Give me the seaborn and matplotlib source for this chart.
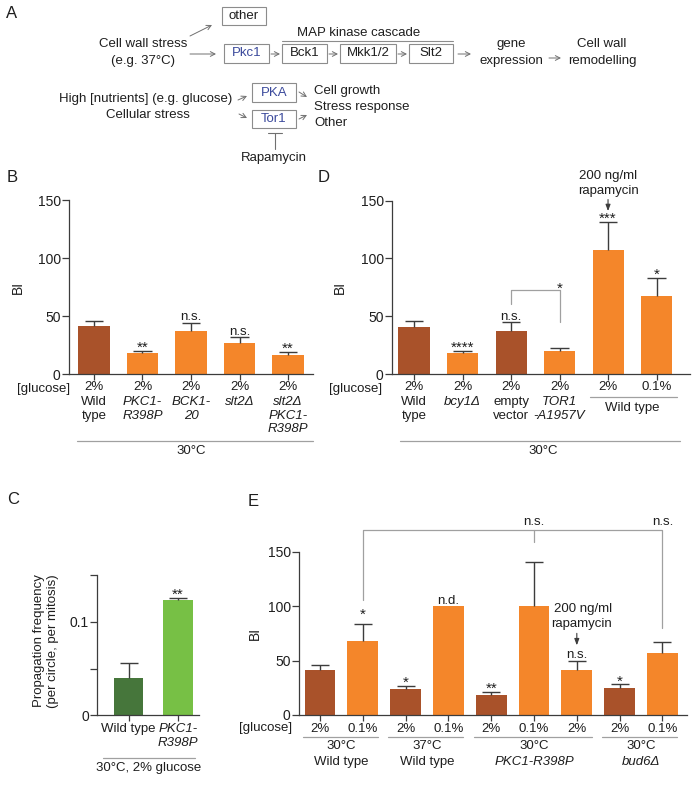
import matplotlib
matplotlib.use("Agg")
import matplotlib.pyplot as plt
import matplotlib.transforms as mtransforms
from matplotlib.patches import Rectangle
import numpy as np
import pandas as pd
import seaborn as sns

W, H = 692, 791
FS = 9.5
STAR = 11
BROWN = "#A9522A"
ORANGE = "#F4862A"
DKGREEN = "#46763B"
LTGREEN = "#77C045"
INK = "#1e1e1e"
AXC = "#3c3c3c"
GREY = "#a0a0a0"
BLUE = "#3b4a9c"

# ---- panel B: BI, 30°C, 2% glucose
b_names = ["Wild\ntype", "PKC1-\nR398P", "BCK1-\n20", "slt2Δ", "slt2Δ\nPKC1-\nR398P"]
b_italic = [False, True, True, True, True]
b_glucose = ["2%", "2%", "2%", "2%", "2%"]
b_bi = [41, 18, 37, 27, 16.5]
b_err = [5, 2, 7, 4.5, 2.3]
b_sig = ["", "**", "n.s.", "n.s.", "**"]
b_colors = [BROWN, ORANGE, ORANGE, ORANGE, ORANGE]

# ---- panel D
d_names = ["Wild\ntype", "bcy1Δ", "empty\nvector", "TOR1\n-A1957V", "", ""]
d_italic = [False, True, False, True, False, False]
d_glucose = ["2%", "2%", "2%", "2%", "2%", "0.1%"]
d_bi = [41, 18.5, 37.5, 20, 107, 67.5]
d_err = [4.7, 1.3, 7.5, 2.2, 24.5, 15.8]
d_sig = ["", "****", "n.s.", "", "***", "*"]
d_colors = [BROWN, ORANGE, BROWN, ORANGE, ORANGE, ORANGE]

# ---- panel C: propagation frequency
c_names = ["Wild type", "PKC1-\nR398P"]
c_italic = [False, True]
c_freq = [0.040, 0.1235]
c_err = [0.0155, 0.002]
c_sig = ["", "**"]
c_colors = [DKGREEN, LTGREEN]

# ---- panel E
e_glucose = ["2%", "0.1%", "2%", "0.1%", "2%", "0.1%", "2%", "2%", "0.1%"]
e_bi = [41.3, 68.3, 24, 100, 18.5, 100, 41.3, 24.5, 56.5]
e_err = [4.6, 15.3, 3, 0, 2.4, 40.5, 8.7, 3.7, 10.7]
e_sig = ["", "*", "*", "n.d.", "**", "", "n.s.", "*", ""]
e_colors = [BROWN, ORANGE, BROWN, ORANGE, BROWN, ORANGE, ORANGE, BROWN, ORANGE]
e_groups = [("30°C", "Wild type", 0, 1, False), ("37°C", "Wild type", 2, 3, False),
            ("30°C", "PKC1-R398P", 4, 6, True), ("30°C", "bud6Δ", 7, 8, True)]

sns.set_theme(style="ticks")
plt.rcParams["font.family"] = ["Liberation Sans", "DejaVu Sans"]
plt.rcParams["font.size"] = FS
plt.rcParams["text.color"] = INK

fig = plt.figure(figsize=(W / 100, H / 100), dpi=100)
ov = fig.add_axes([0, 0, 1, 1])
ov.set_xlim(0, W)
ov.set_ylim(H, 0)
ov.axis("off")
ov.patch.set_alpha(0)


def make_axes(x0, x1, y0, y1):
    ax = fig.add_axes([x0 / W, 1 - y1 / H, (x1 - x0) / W, (y1 - y0) / H])
    ax.patch.set_alpha(0)
    return ax


def bars(ax, vals, errs, colors, width, cap):
    ids = [str(i) for i in range(len(vals))]
    df = pd.DataFrame({"id": ids, "val": vals})
    sns.barplot(data=df, x="id", y="val", hue="id", palette=dict(zip(ids, colors)),
                width=width, saturation=1, errorbar=None, legend=False,
                linewidth=0, ax=ax)
    pos = np.arange(len(vals))
    vals = np.asarray(vals, float)
    errs = np.asarray(errs, float)
    m = errs > 0
    ax.vlines(pos[m], vals[m], vals[m] + errs[m], color=AXC, lw=1, zorder=3)
    ax.hlines(vals[m] + errs[m], pos[m] - cap, pos[m] + cap, color=AXC, lw=1, zorder=3)
    return vals + errs


def style(ax, xlim, ylim, yticks, ylabels, n):
    ax.set_xlim(xlim)
    ax.set_ylim(ylim)
    ax.set_yticks(yticks, ylabels)
    ax.set_xticks(range(n), [""] * n)
    ax.set_xlabel("")
    ax.set_ylabel("")
    sns.despine(ax=ax)
    for sp in ("left", "bottom"):
        ax.spines[sp].set_color(AXC)
        ax.spines[sp].set_linewidth(0.9)
    ax.tick_params(axis="y", length=5, width=0.9, color=AXC, pad=1, labelsize=10, labelcolor=INK)
    ax.tick_params(axis="x", length=4, width=0.9, color=AXC, pad=1)


def sig_labels(ax, tops, sigs, lift=None):
    lift = lift or {}
    for i, (t, s) in enumerate(zip(tops, sigs)):
        if not s:
            continue
        star = s.startswith("*")
        dy = lift.get(i, 0) + (-1 if star else 2.5)
        tr = mtransforms.offset_copy(ax.transData, fig=fig, y=dy, units="dots")
        ax.text(i, t, s, transform=tr, ha="center", va="baseline",
                fontsize=STAR if star else FS)


def blend(ax):
    return mtransforms.blended_transform_factory(ax.transData, ov.transData)


def hline(ax, x0, x1, ypx, color=GREY):
    ax.plot([x0, x1], [ypx, ypx], transform=blend(ax), color=color, lw=0.9, clip_on=False)


def put(ax, x, ypx, s, italic=False, va="center", **kw):
    ax.text(x, ypx, s, transform=blend(ax), ha="center", va=va,
            style="italic" if italic else "normal", fontsize=FS, linespacing=1.18, **kw)


# ================= Panel A (diagram)
def box(x0, x1, y0, y1, label, color=INK):
    ov.add_patch(Rectangle((x0, y0), x1 - x0, y1 - y0, fill=False, ec="#8c8c8c", lw=0.8))
    ov.text((x0 + x1) / 2, (y0 + y1) / 2, label, ha="center", va="center", color=color, fontsize=FS)


def arrow(x0, y0, x1, y1):
    ov.annotate("", xy=(x1, y1), xytext=(x0, y0),
                arrowprops=dict(arrowstyle="->,head_length=0.35,head_width=0.18",
                                color="#707070", lw=0.7, shrinkA=0, shrinkB=0))


ov.text(12, 13, "A", fontsize=12, ha="center", va="center")
box(222, 266, 7, 25, "other")
arrow(190, 36, 212, 25)
ov.text(143, 44, "Cell wall stress", ha="center", va="center")
ov.text(143, 61, "(e.g. 37°C)", ha="center", va="center")
arrow(190, 54, 216, 54)
box(224, 269, 44, 63, "Pkc1", BLUE)
ov.text(359, 33, "MAP kinase cascade", ha="center", va="center")
ov.plot([282, 453], [40.5, 40.5], color="#8c8c8c", lw=0.8)
arrow(271, 54, 280, 54)
box(282, 327, 44, 63, "Bck1")
arrow(329, 54, 338, 54)
box(340, 396, 44, 63, "Mkk1/2")
arrow(398, 54, 407, 54)
box(409, 453, 44, 63, "Slt2")
arrow(458, 54, 471, 54)
ov.text(511, 44, "gene", ha="center", va="center")
ov.text(511, 61, "expression", ha="center", va="center")
arrow(549, 58, 561, 58)
ov.text(602, 44, "Cell wall", ha="center", va="center")
ov.text(602, 61, "remodelling", ha="center", va="center")

ov.text(146, 99, "High [nutrients] (e.g. glucose)", ha="center", va="center")
ov.text(148, 115, "Cellular stress", ha="center", va="center")
arrow(238, 100, 247, 96)
arrow(239, 114, 247, 118)
box(252, 296, 83, 102, "PKA", BLUE)
box(252, 296, 110, 128, "Tor1", BLUE)
arrow(299, 92, 307, 97)
arrow(299, 119, 307, 115)
ov.text(314, 91, "Cell growth", ha="left", va="center")
ov.text(314, 107, "Stress response", ha="left", va="center")
ov.text(314, 123, "Other", ha="left", va="center")
ov.plot([268, 282], [133, 133], color="#707070", lw=0.8)
ov.plot([275, 275], [133, 149], color="#707070", lw=0.8)
ov.text(274, 158, "Rapamycin", ha="center", va="center")

# ================= Panel B
axB = make_axes(69, 313, 200, 374)
tops = bars(axB, b_bi, b_err, b_colors, 0.64, 0.19)
style(axB, (-0.515, 4.515), (0, 150), [0, 50, 100, 150], ["0", "50", "100", "150"], len(b_bi))
sig_labels(axB, tops, b_sig)
ov.text(12, 178, "B", fontsize=12, ha="center", va="center")
ov.text(18, 287, "BI", rotation=90, ha="center", va="center", fontsize=10)
ov.text(70, 389, "[glucose]", ha="right", va="center")
for i, (g, nm, it) in enumerate(zip(b_glucose, b_names, b_italic)):
    put(axB, i, 387, g)
    put(axB, i, 396, nm, italic=it, va="top")
hline(axB, -0.35, 4.515, 441)
put(axB, 2, 451, "30°C")

# ================= Panel D
axD = make_axes(392, 690, 200.7, 374)
tops = bars(axD, d_bi, d_err, d_colors, 0.64, 0.19)
style(axD, (-0.454, 5.69), (0, 150), [0, 50, 100, 150], ["0", "50", "100", "150"], len(d_bi))
sig_labels(axD, tops, d_sig)
ov.text(324, 178, "D", fontsize=12, ha="center", va="center")
ov.text(340, 287, "BI", rotation=90, ha="center", va="center", fontsize=10)
ov.text(382, 389, "[glucose]", ha="right", va="center")
for i, (g, nm, it) in enumerate(zip(d_glucose, d_names, d_italic)):
    put(axD, i, 387, g)
    if nm:
        put(axD, i, 396, nm, italic=it, va="top")
hline(axD, 3.63, 5.42, 397)
put(axD, 4.5, 407.5, "Wild type")
hline(axD, -0.29, 5.48, 441)
put(axD, 2.66, 451, "30°C")
axD.plot([2, 2, 3, 3], [61, 73, 73, 45], color=GREY, lw=0.9, clip_on=False)
axD.text(3, 73, "*", ha="center", va="baseline", fontsize=STAR,
         transform=mtransforms.offset_copy(axD.transData, fig=fig, y=-3, units="dots"))
axD.text(4, 171.5, "200 ng/ml", ha="center", va="center", fontsize=FS, clip_on=False)
axD.text(4, 158, "rapamycin", ha="center", va="center", fontsize=FS, clip_on=False)
axD.annotate("", xy=(4, 141), xytext=(4, 151), annotation_clip=False,
             arrowprops=dict(arrowstyle="-|>,head_length=0.4,head_width=0.15",
                             color=AXC, lw=0.8, shrinkA=0, shrinkB=0))

# ================= Panel C
axC = make_axes(97.3, 199, 575, 715.3)
tops = bars(axC, c_freq, c_err, c_colors, 0.59, 0.18)
style(axC, (-0.637, 1.426), (0, 0.15), [0, 0.05, 0.1, 0.15], ["0", "", "0.1", ""], len(c_freq))
sig_labels(axC, tops, c_sig)
ov.text(13, 500, "C", fontsize=12, ha="center", va="center")
ov.text(46, 641, "Propagation frequency\n(per circle, per mitosis)", rotation=90,
        ha="center", va="center", multialignment="center", linespacing=1.15)
for i, (nm, it) in enumerate(zip(c_names, c_italic)):
    put(axC, i, 723, nm, italic=it, va="top")
hline(axC, -0.52, 1.35, 758)
put(axC, 0.4, 768, "30°C, 2% glucose")

# ================= Panel E
axE = make_axes(299, 686.7, 551.7, 715)
tops = bars(axE, e_bi, e_err, e_colors, 0.72, 0.21)
style(axE, (-0.49, 8.567), (0, 150), [0, 50, 100, 150], ["0", "50", "100", "150"], len(e_bi))
sig_labels(axE, tops, e_sig, lift={1: 6})
ov.text(253, 501, "E", fontsize=12, ha="center", va="center")
ov.text(255, 633, "BI", rotation=90, ha="center", va="center", fontsize=10)
ov.text(292, 728, "[glucose]", ha="right", va="center")
for i, g in enumerate(e_glucose):
    put(axE, i, 729.5, g)
for temp, strain, a, b, it in e_groups:
    hline(axE, a - 0.4, b + 0.35, 736.5)
    put(axE, (a + b) / 2, 746, temp)
    put(axE, (a + b) / 2, 762, strain, italic=it)
axE.plot([1, 1, 8, 8], [105.6, 170, 170, 80], color=GREY, lw=0.9, clip_on=False)
axE.plot([5, 5], [170, 159], color=GREY, lw=0.9, clip_on=False)
axE.text(5, 177.5, "n.s.", ha="center", va="center", fontsize=FS, clip_on=False)
axE.text(8, 177.5, "n.s.", ha="center", va="center", fontsize=FS, clip_on=False)
axE.text(6.15, 97.3, "200 ng/ml", ha="center", va="center", fontsize=FS)
axE.text(6.11, 83.6, "rapamycin", ha="center", va="center", fontsize=FS)
axE.annotate("", xy=(6, 64), xytext=(6, 75), annotation_clip=False,
             arrowprops=dict(arrowstyle="-|>,head_length=0.4,head_width=0.15",
                             color=AXC, lw=0.8, shrinkA=0, shrinkB=0))

fig.savefig("out.png", dpi=100)
